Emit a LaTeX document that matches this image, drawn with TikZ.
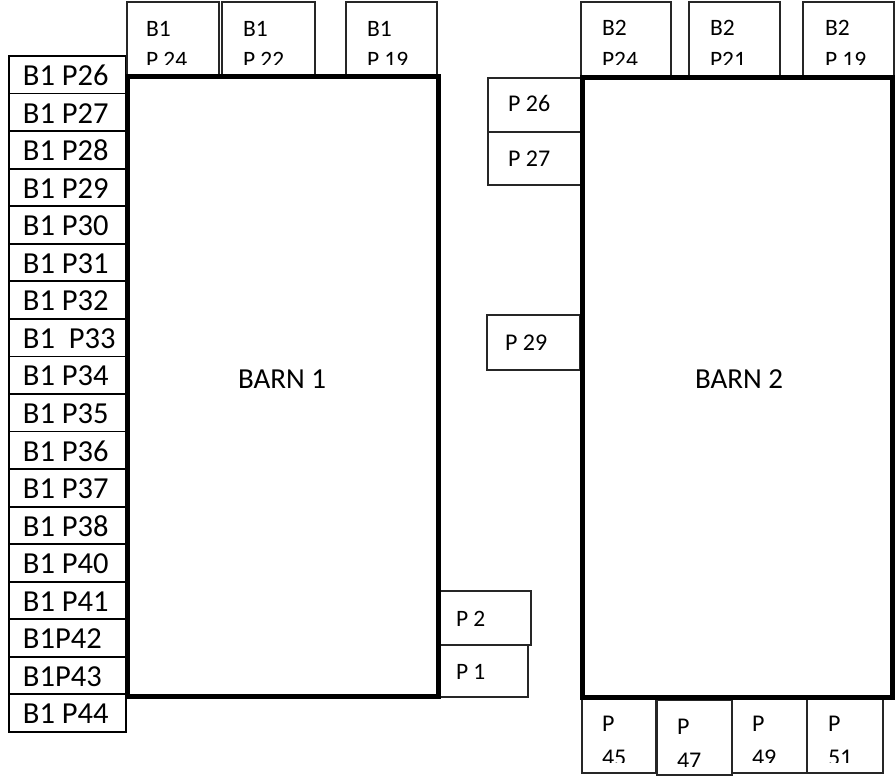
\documentclass[tikz,border=0pt]{standalone}
\usepackage{fontspec}
\setmainfont{Carlito}
\tikzset{
  cell/.style={draw=black, line width=1.8pt, anchor=north west, inner sep=0pt, outer sep=0pt},
  tab/.style={draw=black!85, line width=1.4pt, anchor=north west, inner sep=0pt, outer sep=0pt},
  barn/.style={draw=black, line width=5pt, anchor=north west, inner sep=0pt, outer sep=0pt},
  lab/.style={anchor=base west, inner sep=0pt, outer sep=0pt},
  big/.style={font=\fontsize{30.5}{36}\selectfont},
  small/.style={font=\fontsize{23.5}{28}\selectfont},
  mid/.style={font=\fontsize{24}{28}\selectfont},
  barnlab/.style={anchor=base, inner sep=0pt, font=\fontsize{29}{34}\selectfont}
}
% box: style, name, x1, y1, x2, y2
\newcommand{\mkbox}[6]{\node[#1, minimum width={(#5-#3)*1pt}, minimum height={(#6-#4)*1pt}] (#2) at (#3,#4) {};}
\begin{document}
\begin{tikzpicture}[x=1pt,y=-1pt]
\useasboundingbox (0,0) rectangle (895,776);
\fill[white] (0,0) rectangle (895,776);

% left column of Barn 1
\foreach \t [count=\i from 0] in {B1 P26,B1 P27,B1 P28,B1 P29,B1 P30,B1 P31,B1 P32,B1\ \ P33,B1 P34,B1 P35,B1 P36,B1 P37,B1 P38,B1 P40,B1 P41,B1P42,B1P43,B1 P44}{
  \pgfmathsetmacro{\ytop}{56+37.55*\i}
  \pgfmathsetmacro{\ybot}{56+37.55*(\i+1)}
  \mkbox{cell}{lc\i}{9}{\ytop}{126}{\ybot}
  \node[lab, big] (lt\i) at (23,\ytop+29.5) {\t};
}

% top tabs of Barn 1
\mkbox{tab}{t124}{127}{2}{219}{77}
\mkbox{tab}{t122}{222}{2}{315}{77}
\mkbox{tab}{t119}{346}{2}{437}{77}
% top tabs of Barn 2
\mkbox{tab}{t224}{581}{2}{671}{77}
\mkbox{tab}{t221}{689}{2}{780}{77}
\mkbox{tab}{t219}{803}{2}{894}{77}

\begin{scope}\clip (127,2) rectangle (219,65);
  \node[lab, small] (x124a) at (146,37) {B1};
  \node[lab, small] (x124b) at (146,68) {P 24};
\end{scope}
\begin{scope}\clip (222,2) rectangle (315,65);
  \node[lab, small] (x122a) at (243,37) {B1};
  \node[lab, small] (x122b) at (243,68) {P 22};
\end{scope}
\begin{scope}\clip (346,2) rectangle (437,65);
  \node[lab, small] (x119a) at (367,37) {B1};
  \node[lab, small] (x119b) at (367,68) {P 19};
\end{scope}
\begin{scope}\clip (581,2) rectangle (671,65);
  \node[lab, small] (x224a) at (602,36) {B2};
  \node[lab, small] (x224b) at (602,68) {P24};
\end{scope}
\begin{scope}\clip (689,2) rectangle (780,65);
  \node[lab, small] (x221a) at (710,36) {B2};
  \node[lab, small] (x221b) at (710,68) {P21};
\end{scope}
\begin{scope}\clip (803,2) rectangle (894,65);
  \node[lab, small] (x219a) at (825,36) {B2};
  \node[lab, small] (x219b) at (825,68) {P 19};
\end{scope}

% side tabs of Barn 2
\mkbox{tab}{s26}{488}{78}{582}{132}
\mkbox{tab}{s27}{488}{132}{582}{185}
\mkbox{tab}{s29}{487}{315}{580}{370}
\node[lab, mid] (xs26) at (508,111) {P 26};
\node[lab, mid] (xs27) at (508,166) {P 27};
\node[lab, mid] (xs29) at (505,350) {P 29};

% side tabs of Barn 1
\mkbox{tab}{s2}{439}{591}{531}{645}
\mkbox{tab}{s1}{439}{645}{528}{697}
\node[lab, small] (xs2) at (456,626) {P 2};
\node[lab, small] (xs1) at (456,679) {P 1};

% bottom tabs of Barn 2
\mkbox{tab}{b45}{582}{697}{656}{773}
\mkbox{tab}{b47}{657}{700}{732}{775}
\mkbox{tab}{b49}{732}{697}{807}{773}
\mkbox{tab}{b51}{807}{697}{883}{773}
\begin{scope}\clip (582,697) rectangle (656,762);
  \node[lab, mid] (x45a) at (602,731) {P};
  \node[lab, mid] (x45b) at (602,765) {45};
\end{scope}
\begin{scope}\clip (657,700) rectangle (732,766);
  \node[lab, mid] (x47a) at (677,734) {P};
  \node[lab, mid] (x47b) at (677,768) {47};
\end{scope}
\begin{scope}\clip (732,697) rectangle (807,762);
  \node[lab, mid] (x49a) at (752,731) {P};
  \node[lab, mid] (x49b) at (752,765) {49};
\end{scope}
\begin{scope}\clip (807,697) rectangle (883,762);
  \node[lab, mid] (x51a) at (828,731) {P};
  \node[lab, mid] (x51b) at (828,765) {51};
\end{scope}

% barns
\mkbox{barn}{barn1}{127}{77}{438}{696}
\mkbox{barn}{barn2}{582}{78}{892}{697}
\node[barnlab] (bl1) at (282,388) {BARN 1};
\node[barnlab] (bl2) at (739,388) {BARN 2};
\end{tikzpicture}
\end{document}
